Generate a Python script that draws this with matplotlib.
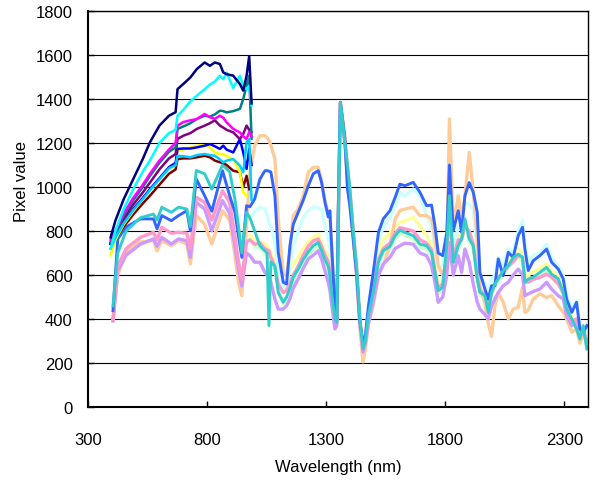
import numpy as np
from matplotlib import pyplot as plt

plt.rcParams['font.family'] = ['Liberation Sans', 'DejaVu Sans']

# ---- full range spectra (400-2400 nm) ----
wl_full = [405, 425, 460, 520, 575, 590, 610, 650, 680, 715,
           730, 755, 790, 820, 865, 895, 917, 932, 946, 966,
           980, 1000, 1022, 1043, 1052, 1060, 1068, 1085, 1099, 1120,
           1134, 1148, 1162, 1183, 1204, 1225, 1246, 1267, 1281, 1295,
           1309, 1316, 1323, 1337, 1345, 1352, 1360, 1379, 1390, 1400,
           1414, 1428, 1442, 1455, 1465, 1478, 1498, 1520, 1540, 1568,
           1590, 1610, 1631, 1666, 1694, 1722, 1743, 1757, 1771, 1790,
           1807, 1818, 1834, 1855, 1869, 1883, 1901, 1918, 1935, 1946,
           1967, 1981, 1995, 2009, 2023, 2044, 2065, 2086, 2107, 2125,
           2135, 2149, 2170, 2198, 2226, 2247, 2275, 2296, 2310, 2332,
           2352, 2366, 2380, 2395]

royal_blue = [438, 764, 818, 855, 855, 810, 870, 847, 870, 892,
              801, 1036, 960, 890, 1074, 960, 886, 779, 680, 915,
              910, 945, 1036, 1074, 1074, 1072, 1068, 960, 703, 567,
              559, 733, 830, 885, 940, 1005, 1060, 1074, 1021, 932,
              864, 892, 733, 460, 400, 950, 1385, 1218, 991, 915,
              764, 612, 386, 294, 324, 460, 612, 794, 855, 892,
              953, 1013, 1006, 1021, 976, 915, 918, 824, 700, 688,
              794, 1100, 800, 892, 794, 960, 1020, 976, 885, 612,
              536, 491, 551, 551, 673, 597, 703, 680, 779, 817,
              718, 620, 665, 688, 718, 658, 627, 582, 491, 430,
              476, 355, 339, 370]

turquoise = [460, 700, 800, 860, 877, 850, 908, 885, 908, 900,
             820, 1075, 1060, 990, 1100, 1070, 945, 824, 700, 885,
             860, 800, 733, 710, 700, 370, 660, 640, 520, 476,
             500, 540, 590, 627, 670, 705, 733, 748, 710, 670,
             640, 597, 520, 400, 385, 900, 1385, 1200, 1100, 991,
             800, 640, 400, 265, 300, 420, 521, 660, 710, 730,
             779, 803, 794, 779, 740, 733, 703, 612, 529, 544,
             733, 960, 658, 733, 764, 855, 764, 733, 582, 521,
             506, 430, 521, 559, 582, 620, 642, 680, 695, 680,
             567, 582, 590, 612, 635, 604, 582, 521, 445, 400,
             355, 309, 370, 264]

peach = [392, 600, 703, 750, 756, 710, 756, 733, 756, 741,
         650, 870, 830, 741, 892, 850, 688, 567, 506, 824,
         1067, 1188, 1233, 1233, 1225, 1210, 1190, 1127, 855, 604,
         597, 703, 870, 900, 960, 1067, 1089, 1089, 1029, 940,
         880, 880, 740, 480, 390, 900, 1385, 1230, 1000, 915,
         764, 600, 360, 205, 260, 380, 460, 600, 642, 733,
         855, 892, 900, 908, 870, 870, 855, 764, 642, 600,
         673, 1309, 824, 960, 850, 960, 1157, 980, 764, 551,
         470, 380, 320, 460, 520, 476, 400, 445, 453, 544,
         430, 440, 491, 514, 498, 506, 460, 430, 400, 340,
         355, 290, 339, 279]

lavender = [392, 620, 690, 740, 764, 730, 771, 741, 764, 756,
            680, 930, 900, 801, 938, 880, 733, 627, 550, 700,
            688, 658, 658, 612, 600, 580, 567, 491, 445, 445,
            460, 491, 540, 582, 630, 673, 690, 710, 673, 620,
            567, 530, 470, 355, 370, 900, 1380, 1200, 1050, 950,
            780, 600, 380, 250, 290, 380, 480, 600, 650, 680,
            720, 733, 745, 740, 700, 688, 642, 567, 476, 500,
            600, 748, 600, 688, 612, 718, 658, 560, 476, 445,
            420, 400, 460, 491, 521, 551, 567, 600, 627, 600,
            506, 514, 525, 536, 567, 536, 506, 491, 415, 370,
            400, 324, 339, 300]

pink = [400, 640, 720, 771, 794, 760, 817, 790, 794, 790,
        720, 953, 930, 850, 983, 930, 780, 660, 580, 750,
        760, 740, 745, 720, 715, 710, 680, 640, 560, 520,
        530, 560, 600, 640, 690, 730, 755, 764, 730, 690,
        660, 620, 540, 400, 390, 900, 1385, 1210, 1080, 980,
        800, 630, 390, 270, 305, 430, 540, 670, 720, 745,
        790, 815, 810, 800, 760, 745, 715, 620, 540, 560,
        700, 880, 680, 760, 760, 820, 800, 740, 590, 530,
        510, 470, 520, 560, 590, 610, 640, 660, 690, 680,
        570, 567, 580, 589, 604, 590, 559, 520, 450, 390,
        400, 330, 350, 300]

# these three start at ~980 nm (wl_full[20:])
pale_cyan = [855, 890, 908, 900, 870, 839, 820, 748, 627, 551,
             521, 640, 733, 800, 860, 892, 908, 905, 900, 824,
             764, 720, 673, 500, 420, 900, 1380, 1210, 1020, 930,
             780, 620, 390, 280, 320, 450, 590, 750, 820, 860,
             915, 976, 960, 991, 960, 870, 824, 720, 642, 640,
             733, 950, 720, 820, 820, 930, 920, 900, 700, 600,
             560, 520, 580, 600, 680, 640, 720, 700, 800, 847,
             740, 650, 690, 700, 740, 680, 640, 600, 510, 450,
             480, 370, 350, 360]

pale_yellow = [780, 760, 750, 740, 730, 720, 700, 660, 600, 604,
               600, 620, 650, 680, 720, 750, 770, 786, 750, 710,
               690, 650, 560, 420, 400, 900, 1385, 1210, 1080, 980,
               800, 630, 400, 285, 315, 440, 560, 700, 760, 790,
               820, 839, 845, 862, 824, 779, 740, 650, 560, 570,
               720, 900, 700, 780, 770, 850, 800, 750, 610, 540,
               520, 470, 530, 570, 600, 630, 660, 690, 720, 700,
               590, 600, 615, 630, 650, 620, 600, 540, 460, 410,
               380, 320, 370, 280]

pale_green = [760, 730, 725, 700, 690, 680, 650, 620, 540, 470,
              480, 520, 570, 610, 650, 690, 715, 730, 700, 655,
              620, 585, 500, 390, 380, 900, 1380, 1200, 1090, 985,
              800, 630, 395, 268, 300, 415, 510, 645, 695, 715,
              765, 790, 780, 765, 725, 718, 690, 600, 515, 530,
              720, 930, 650, 720, 745, 835, 750, 720, 570, 510,
              495, 425, 510, 545, 570, 605, 630, 665, 680, 665,
              560, 575, 580, 600, 620, 595, 570, 510, 440, 395,
              360, 305, 360, 270]

# ---- VNIR only spectra (400-1000 nm) ----
wl_vnir = [395, 415, 450, 490, 530, 560, 600, 640, 668, 676,
           700, 730, 757, 790, 812, 833, 854, 868, 882, 910,
           938, 952, 966, 977, 987]

navy = [771, 847, 945, 1036, 1127, 1203, 1279, 1324, 1340, 1445,
        1468, 1498, 1536, 1566, 1551, 1566, 1559, 1521, 1513, 1506,
        1468, 1438, 1506, 1595, 1380]
cyan = [720, 800, 900, 990, 1070, 1120, 1200, 1245, 1260, 1324,
        1350, 1390, 1415, 1445, 1465, 1480, 1506, 1490, 1520, 1450,
        1506, 1460, 1445, 1460, 1370]
magenta = [760, 800, 880, 950, 1010, 1060, 1120, 1170, 1200, 1279,
           1295, 1303, 1309, 1332, 1317, 1310, 1324, 1315, 1294, 1264,
           1248, 1230, 1218, 1250, 1230]
dark_teal = [750, 790, 870, 940, 1000, 1050, 1110, 1160, 1180, 1264,
             1275, 1290, 1309, 1324, 1320, 1330, 1347, 1345, 1339, 1345,
             1355, 1400, 1460, 1506, 1220]
purple = [745, 780, 855, 920, 975, 1020, 1080, 1130, 1150, 1218,
          1233, 1245, 1264, 1279, 1290, 1303, 1279, 1270, 1260, 1248,
          1218, 1241, 1279, 1260, 1250]
pure_blue = [740, 775, 840, 900, 950, 990, 1040, 1090, 1110, 1173,
             1175, 1175, 1180, 1188, 1195, 1185, 1173, 1188, 1170, 1157,
             1218, 1157, 1082, 1173, 1100]
sky = [720, 770, 835, 895, 945, 985, 1035, 1085, 1100, 1142,
       1140, 1135, 1145, 1150, 1145, 1142, 1125, 1112, 1120, 1127,
       1097, 1067, 1203, 1218, 940]
yellow = [690, 760, 830, 890, 945, 985, 1035, 1080, 1100, 1165,
          1170, 1180, 1188, 1190, 1180, 1157, 1150, 1150, 1140, 1127,
          1067, 976, 960]
maroon = [740, 765, 820, 875, 925, 960, 1010, 1060, 1080, 1127,
          1130, 1130, 1135, 1142, 1135, 1120, 1112, 1110, 1100, 1074,
          1067, 1000, 1051, 990]

fig = plt.figure(figsize=(5.94, 4.89), dpi=100)
ax = fig.add_axes([88 / 594, 1 - 408 / 489, 500 / 594, 396 / 489])

# full range curves (pale ones underneath)
wl_swir = wl_full[20:]
ax.plot(wl_swir, pale_green, color='#CCFFCC', lw=2.4)
ax.plot(wl_swir, pale_yellow, color='#FFFF99', lw=2.4)
ax.plot(wl_swir, pale_cyan, color='#CCFFFF', lw=2.4)
ax.plot(wl_full, peach, color='#FFCC99', lw=2.4)
ax.plot(wl_full, lavender, color='#CC99FF', lw=2.4)
ax.plot(wl_full, pink, color='#FF99CC', lw=2.4)
ax.plot(wl_full, royal_blue, color='#3366FF', lw=2.1)
ax.plot(wl_full, turquoise, color='#33CCCC', lw=2.1)

# VNIR curves on top
ax.plot(wl_vnir[:24], maroon, color='#800000', lw=1.8)
ax.plot(wl_vnir[:23], yellow, color='#FFFF00', lw=1.8)
ax.plot(wl_vnir, pure_blue, color='#0000FF', lw=1.8)
ax.plot(wl_vnir, purple, color='#800080', lw=1.8)
ax.plot(wl_vnir, dark_teal, color='#008080', lw=1.8)
ax.plot(wl_vnir, magenta, color='#FF00FF', lw=1.8)
ax.plot(wl_vnir, sky, color='#00CCFF', lw=1.8)
ax.plot(wl_vnir, cyan, color='#00FFFF', lw=1.8)
ax.plot(wl_vnir, navy, color='#000080', lw=1.8)

ax.set_xlim(300, 2400)
ax.set_ylim(0, 1800)
ax.set_xticks(np.arange(300, 2301, 500))
ax.set_yticks(np.arange(0, 1801, 200))
ax.yaxis.grid(True, color='black', lw=0.8)
ax.set_axisbelow(True)
ax.tick_params(direction='in', length=4, width=1, labelsize=12)
ax.tick_params(axis='x', pad=18)
ax.tick_params(axis='y', pad=11)
for side in ['left', 'bottom']:
    ax.spines[side].set_linewidth(1.5)
for side in ['right', 'top']:
    ax.spines[side].set_linewidth(1.0)

fig.text(338 / 594, 1 - 468 / 489, 'Wavelength (nm)', ha='center',
         va='center', fontsize=12)
fig.text(22 / 594, 1 - 182 / 489, 'Pixel value', ha='center',
         va='center', rotation=90, fontsize=12)

fig.savefig('out.png', dpi=100)
